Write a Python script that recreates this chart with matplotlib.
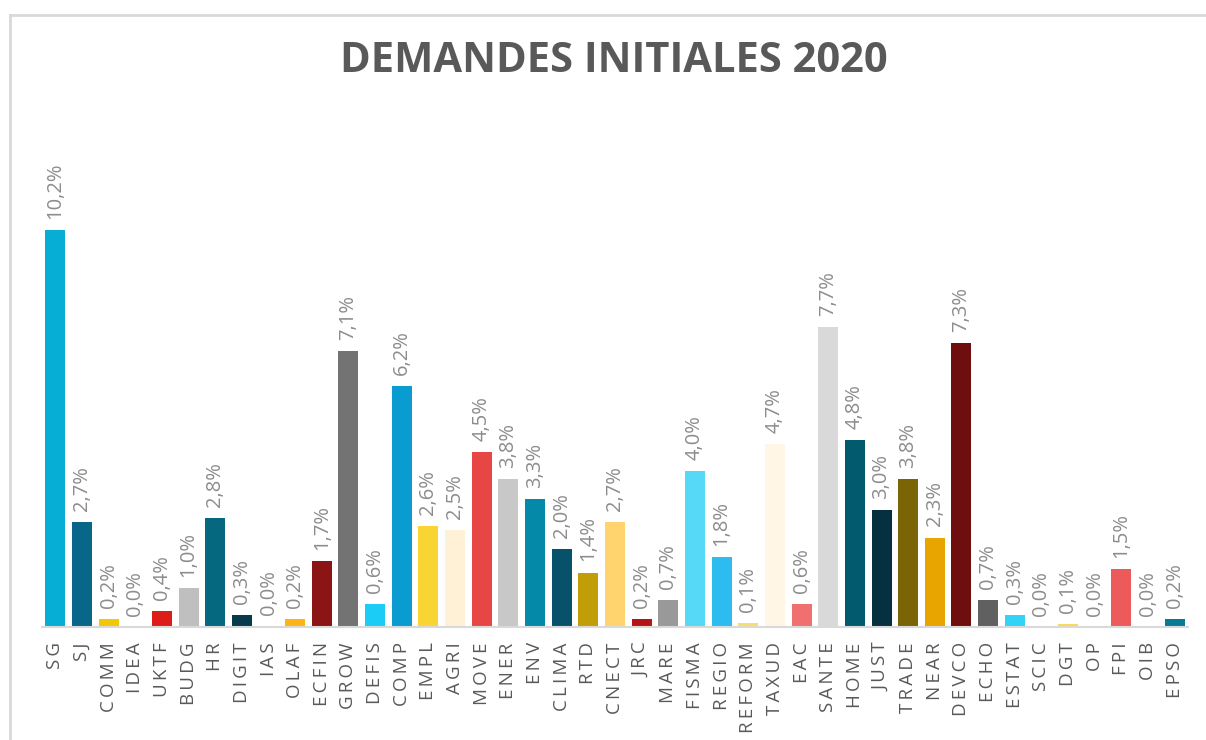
import matplotlib.pyplot as plt
from matplotlib.lines import Line2D

# --- Data ---
categories = ['SG', 'SJ', 'COMM', 'IDEA', 'UKTF', 'BUDG', 'HR', 'DIGIT', 'IAS', 'OLAF',
              'ECFIN', 'GROW', 'DEFIS', 'COMP', 'EMPL', 'AGRI', 'MOVE', 'ENER', 'ENV', 'CLIMA',
              'RTD', 'CNECT', 'JRC', 'MARE', 'FISMA', 'REGIO', 'REFORM', 'TAXUD', 'EAC', 'SANTE',
              'HOME', 'JUST', 'TRADE', 'NEAR', 'DEVCO', 'ECHO', 'ESTAT', 'SCIC', 'DGT', 'OP',
              'FPI', 'OIB', 'EPSO']
values = [10.2, 2.7, 0.2, 0.0, 0.4, 1.0, 2.8, 0.3, 0.03, 0.2,
          1.7, 7.1, 0.6, 6.2, 2.6, 2.5, 4.5, 3.8, 3.3, 2.0,
          1.4, 2.7, 0.2, 0.7, 4.0, 1.8, 0.1, 4.7, 0.6, 7.7,
          4.8, 3.0, 3.8, 2.3, 7.3, 0.7, 0.3, 0.0, 0.07, 0.0,
          1.5, 0.0, 0.2]
colors = ['#06AED5', '#086788', '#F0C808', '#FFF1D5', '#DD1C1A', '#BFBFBF', '#05687F', '#073B4C', '#C0B090', '#FDB515',
          '#8B1414', '#737373', '#1BCCF7', '#0A9BD0', '#F9D534', '#FFF1D5', '#E84545', '#C8C8C8', '#0589A8', '#07516B',
          '#C19D07', '#FFD46E', '#B51515', '#999999', '#55D9F7', '#2DBCF0', '#F9DF6A', '#FFF6E5', '#F07070', '#D9D9D9',
          '#025A6E', '#05303F', '#7A6405', '#E8A500', '#6E0E0E', '#606060', '#33D3F7', '#E0E0E0', '#F9DA5A', '#E0E0E0',
          '#EC5A5A', '#E0E0E0', '#0A7A94']
title = 'DEMANDES INITIALES 2020'

plt.rcParams['font.family'] = ['Open Sans', 'DejaVu Sans']

fig = plt.figure(figsize=(12.06, 7.40), dpi=100)
ax = fig.add_axes([42 / 1206, 1 - 627 / 740, (1188 - 42) / 1206, (627 - 110) / 740])

x = range(len(categories))
bars = ax.bar(x, values, width=0.75, color=colors)

ax.set_xlim(-0.5, len(categories) - 0.5)
ax.set_ylim(0, (627 - 110) / 38.9)

# value labels
for b, v in zip(bars, values):
    lbl = f'{v:.1f}%'.replace('.', ',')
    ax.annotate(lbl, (b.get_x() + b.get_width() / 2, b.get_height()),
                xytext=(0, 8), textcoords='offset points', rotation=90,
                ha='center', va='bottom', fontsize=14.5, color='#8C8C8C')

# spaced category labels
spaced = ['\u2009'.join(c) for c in categories]
ax.set_xticks(list(x))
ax.set_xticklabels(spaced, rotation=90, fontsize=13.5, color='#595959')
ax.tick_params(axis='x', length=0, pad=11)
ax.set_yticks([])
for s in ['top', 'right', 'left']:
    ax.spines[s].set_visible(False)
ax.spines['bottom'].set_color('#D9D9D9')
ax.spines['bottom'].set_linewidth(1.5)

fig.text(614 / 1206, 1 - 62 / 740, title,
         ha='center', va='center', fontsize=30, fontweight='bold', color='#595959')

# chart border (top and left edges visible)
fig.add_artist(Line2D([10 / 1206, 1], [1 - 15 / 740, 1 - 15 / 740], color='#D9D9D9', lw=2))
fig.add_artist(Line2D([10 / 1206, 10 / 1206], [0, 1 - 15 / 740], color='#D9D9D9', lw=2))

fig.savefig('out.png', dpi=100)
